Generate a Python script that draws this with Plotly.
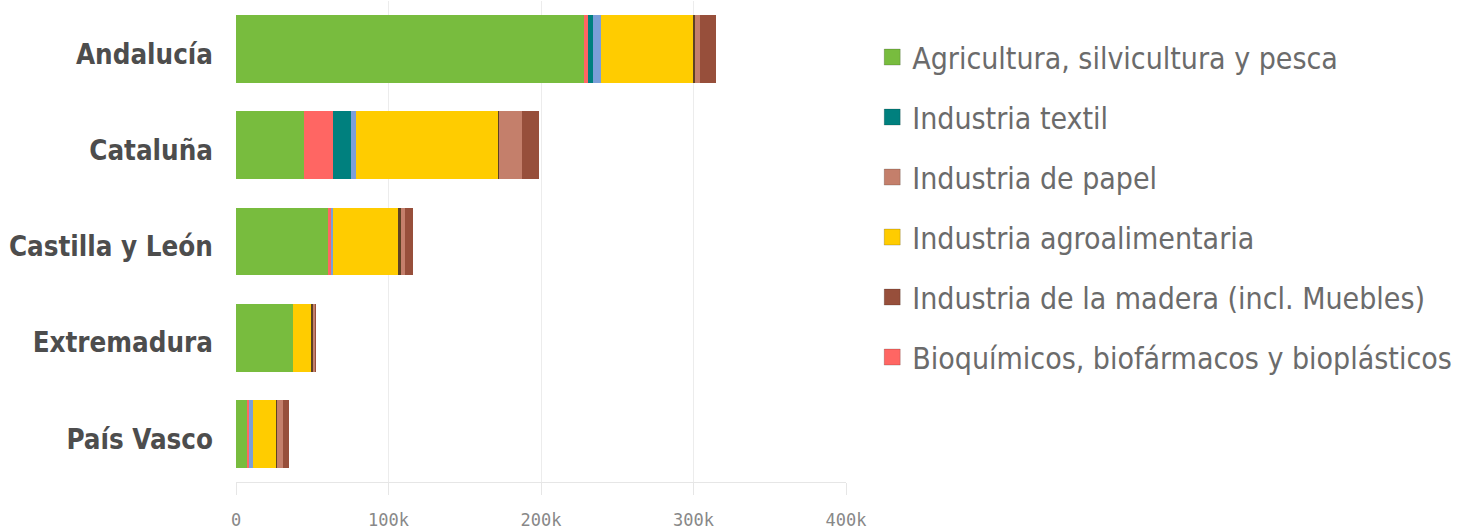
import plotly.graph_objects as go

regions = ["Andalucía", "Cataluña", "Castilla y León", "Extremadura", "País Vasco"]

# values in thousands (k), stacking order left -> right
agricultura = [228.2, 44.6, 60.3, 37.6, 7.0]
bioquimicos = [2.6, 19.3, 1.7, 0.0, 1.7]
textil = [3.6, 11.3, 0.0, 0.0, 0.0]
otros_bio = [4.9, 3.3, 1.5, 0.0, 2.2]
agroalimentaria = [60.3, 93.3, 42.6, 12.2, 15.7]
otras_ind = [1.5, 0.4, 2.2, 1.0, 0.3]
papel = [3.1, 15.3, 2.2, 1.2, 3.9]
madera = [10.5, 10.9, 5.5, 0.4, 3.7]

series = [
    ("Agricultura, silvicultura y pesca", agricultura, "#78bc3e", True, 1),
    ("Bioquímicos, biofármacos y bioplásticos", bioquimicos, "#ff6663", True, 6),
    ("Industria textil", textil, "#00807e", True, 2),
    ("Otros bioproductos", otros_bio, "#7b9fd8", False, 7),
    ("Industria agroalimentaria", agroalimentaria, "#ffcc00", True, 4),
    ("Otras industrias", otras_ind, "#5e4224", False, 8),
    ("Industria de papel", papel, "#c47f6b", True, 3),
    ("Industria de la madera (incl. Muebles)", madera, "#974f3b", True, 5),
]

fig = go.Figure()
for name, vals, color, show, rank in series:
    fig.add_trace(go.Bar(
        y=regions,
        x=[v * 1000 for v in vals],
        name=name,
        orientation="h",
        marker=dict(color=color, line=dict(width=0)),
        showlegend=False,
        legendgroup=name,
    ))

# legend entries (square keys) for the named series
for name, vals, color, show, rank in series:
    if not show:
        continue
    fig.add_trace(go.Scatter(
        x=[None], y=[None],
        mode="markers",
        name=name,
        legendgroup=name,
        legendrank=rank,
        marker=dict(symbol="square", size=16, color=color,
                    line=dict(width=1, color="rgba(0,0,0,0.18)")),
        hoverinfo="skip",
    ))

fig.update_layout(
    width=1465,
    height=529,
    barmode="stack",
    bargap=0.295,
    plot_bgcolor="white",
    paper_bgcolor="white",
    margin=dict(l=236, r=619, t=1, b=47, autoexpand=False),
    legend=dict(
        x=1.043, xanchor="left",
        y=0.9375, yanchor="top",
        font=dict(family="DejaVu Sans Condensed, sans-serif", size=30, color="#6b6b6b"),
        tracegroupgap=18,
        traceorder="grouped",
        bgcolor="rgba(0,0,0,0)",
    ),
    xaxis=dict(
        range=[0, 400000],
        tickvals=[0, 100000, 200000, 300000, 400000],
        ticktext=["0", "100k", "200k", "300k", "400k"],
        showgrid=True,
        gridcolor="#ececec",
        gridwidth=1,
        zeroline=False,
        showline=True,
        linecolor="#e6e6e6",
        ticks="outside",
        ticklen=12,
        tickcolor="#e6e6e6",
        ticklabelstandoff=11,
        automargin=False,
        tickfont=dict(family="DejaVu Sans Mono, monospace", size=17, color="#888888"),
    ),
    yaxis=dict(
        categoryorder="array",
        categoryarray=regions,
        autorange="reversed",
        showgrid=False,
        zeroline=False,
        ticks="",
        ticklabelstandoff=22,
        ticklabelshift=-5,
        automargin=False,
        tickfont=dict(family="DejaVu Sans Condensed, sans-serif", size=27.5, color="#4d4d4d", weight="bold"),
    ),
)

post = """
document.body.style.margin = '0';
document.body.style.overflow = 'hidden';
"""

fig.write_html("out.html", post_script=post, config={"displayModeBar": False})
